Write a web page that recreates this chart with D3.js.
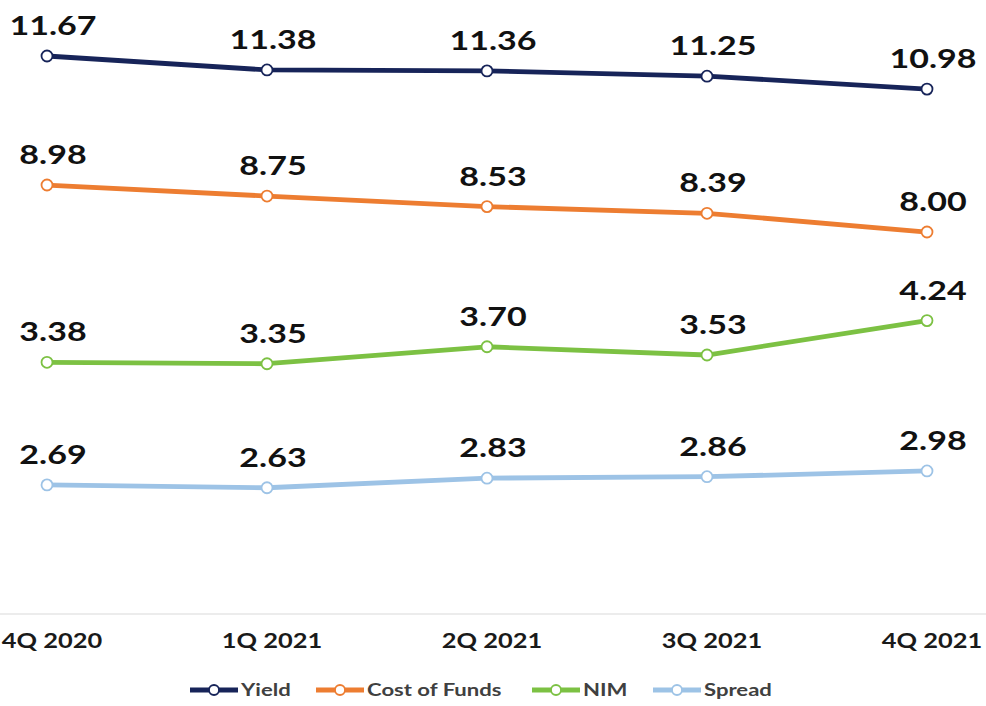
<!DOCTYPE html>
<html>
<head>
<meta charset="utf-8">
<script src="https://cdn.jsdelivr.net/npm/d3@7"></script>
<style>
  body { margin: 0; background: #fff; }
  svg { display: block; }
</style>
</head>
<body>
<svg id="chart" width="986" height="706"></svg>
<script>
// quarters and the four rate series
var quarters = ["4Q 2020", "1Q 2021", "2Q 2021", "3Q 2021", "4Q 2021"];
var yieldVals = [11.67, 11.38, 11.36, 11.25, 10.98];
var costVals = [8.98, 8.75, 8.53, 8.39, 8.00];
var nimVals = [3.38, 3.35, 3.70, 3.53, 4.24];
var spreadVals = [2.69, 2.63, 2.83, 2.86, 2.98];
var seriesNames = ["Yield", "Cost of Funds", "NIM", "Spread"];
var seriesColors = ["#172459", "#ED7D31", "#7CC143", "#9DC3E6"];

var series = [yieldVals, costVals, nimVals, spreadVals].map(function(v, i){
    return { name: seriesNames[i], color: seriesColors[i], values: v };
});

var svg = d3.select("#chart");
var fontFam = "Lato, 'Open Sans', sans-serif";

var x = d3.scalePoint()
    .domain(quarters)
    .range([47, 927]);

// the original chart has a broken value axis, so the scale is piecewise
var y = d3.scaleLinear()
    .domain([2.5, 3.0, 3.2, 4.5, 7.5, 12.2])
    .range([494, 470, 371, 308, 256, 30.6]);

// the source picture is stretched sideways, so text gets a wider scale
function wide(px, py, k){
    return "translate(" + px + "," + py + ") scale(" + k + ",1)";
}

// category axis line
svg.append("line")
    .attr("x1", 0).attr("x2", 986)
    .attr("y1", 614).attr("y2", 614)
    .attr("stroke", "#d9d9d9")
    .attr("stroke-width", 1.2);

svg.append("g").selectAll("text")
    .data(quarters)
    .enter().append("text")
    .attr("transform", function(d){ return wide(x(d) + 5, 648, 1.27); })
    .attr("text-anchor", "middle")
    .style("font-family", fontFam)
    .style("font-weight", "bold")
    .style("font-size", "20px")
    .style("fill", "#1a1a1a")
    .text(function(d){ return d; });

var line = d3.line()
    .x(function(d, i){ return x(quarters[i]); })
    .y(function(d){ return y(d); });

var g = svg.selectAll(".series")
    .data(series)
    .enter().append("g")
    .attr("class", "series");

g.append("path")
    .attr("d", function(d){ return line(d.values); })
    .attr("fill", "none")
    .attr("stroke", function(d){ return d.color; })
    .attr("stroke-width", 4.8)
    .attr("stroke-linejoin", "round");

g.each(function(s){
    var sel = d3.select(this);
    sel.selectAll("circle")
        .data(s.values)
        .enter().append("circle")
        .attr("cx", function(d, i){ return x(quarters[i]); })
        .attr("cy", function(d){ return y(d); })
        .attr("r", 5.5)
        .attr("fill", "#fff")
        .attr("stroke", s.color)
        .attr("stroke-width", 1.8);
    sel.selectAll("text")
        .data(s.values)
        .enter().append("text")
        .attr("transform", function(d, i){ return wide(x(quarters[i]) + 6, y(d) - 21, 1.26); })
        .attr("text-anchor", "middle")
        .style("font-family", fontFam)
        .style("font-weight", "bold")
        .style("font-size", "27px")
        .style("fill", "#111")
        .text(function(d){ return d.toFixed(2); });
});

// legend
var legendX = [190, 316, 532, 653];
var lg = svg.selectAll(".legend")
    .data(series)
    .enter().append("g")
    .attr("class", "legend")
    .attr("transform", function(d, i){ return "translate(" + legendX[i] + ",690)"; });

lg.append("line")
    .attr("x1", 0).attr("x2", 48)
    .attr("y1", 0).attr("y2", 0)
    .attr("stroke", function(d){ return d.color; })
    .attr("stroke-width", 4.8);

lg.append("circle")
    .attr("cx", 24).attr("cy", 0).attr("r", 5)
    .attr("fill", "#fff")
    .attr("stroke", function(d){ return d.color; })
    .attr("stroke-width", 1.8);

lg.append("text")
    .attr("transform", wide(51, 6, 1.3))
    .style("font-family", fontFam)
    .style("font-weight", "bold")
    .style("font-size", "17px")
    .style("fill", "#404040")
    .text(function(d){ return d.name; });
</script>
</body>
</html>
